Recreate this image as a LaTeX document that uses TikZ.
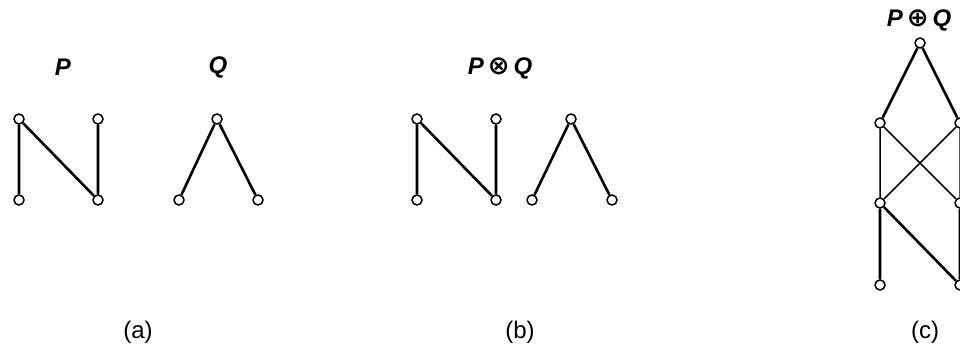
\documentclass[tikz,border=0pt]{standalone}
\usepackage{fontspec}
\setmainfont{Liberation Sans}
\newfontfamily\symfont{DejaVu Sans}
\newcommand{\opsym}[1]{\hspace{4pt}{\normalfont\bfseries\symfont\fontsize{26}{28}\selectfont #1}\hspace{4pt}}
\begin{document}
\begin{tikzpicture}[x=1pt,y=1pt,
  vert/.style={circle,draw=black,fill=white,line width=1.5pt,inner sep=0pt,minimum size=10pt},
  edge/.style={line width=2.6pt},
  thinedge/.style={line width=1.5pt},
  lbl/.style={font=\fontsize{24}{28}\selectfont\bfseries\itshape,inner sep=0pt},
  sublabel/.style={font=\fontsize{24}{28}\selectfont,inner sep=0pt}]
\useasboundingbox (0,0) rectangle (960,351);
% (a) P
\node[vert] (p1) at (19,232) {};
\node[vert] (p2) at (98,232) {};
\node[vert] (p3) at (19,151) {};
\node[vert] (p4) at (98,151) {};
\draw[edge] (p3) -- (p1) -- (p4) -- (p2);
\node[lbl] (lP) at (63,284) {P};
% (a) Q
\node[vert] (q1) at (217,232) {};
\node[vert] (q2) at (179,151) {};
\node[vert] (q3) at (258,151) {};
\draw[edge] (q2) -- (q1) -- (q3);
\node[lbl] (lQ) at (218,284) {Q};
\node[sublabel] (la) at (138,19) {(a)};
% (b)
\node[vert] (b1) at (417,232) {};
\node[vert] (b2) at (496,232) {};
\node[vert] (b3) at (417,151) {};
\node[vert] (b4) at (496,151) {};
\draw[edge] (b3) -- (b1) -- (b4) -- (b2);
\node[vert] (b5) at (571,232) {};
\node[vert] (b6) at (532,151) {};
\node[vert] (b7) at (612,151) {};
\draw[edge] (b6) -- (b5) -- (b7);
\node[lbl] (lb) at (500,283) {P\opsym{⊗}Q};
\node[sublabel] (lbb) at (520,19) {(b)};
% (c)
\node[vert] (c1) at (880,66) {};
\node[vert] (c2) at (960,66) {};
\node[vert] (c3) at (880,148) {};
\node[vert] (c4) at (960,148) {};
\node[vert] (c5) at (880,228) {};
\node[vert] (c6) at (960,228) {};
\node[vert] (c7) at (920,308) {};
\draw[edge] (c1) -- (c3) -- (c2) -- (c4);
\draw[thinedge] (c3) -- (c5) (c3) -- (c6) (c4) -- (c5) (c4) -- (c6);
\draw[edge] (c5) -- (c7) -- (c6);
\node[lbl] (lc) at (919,331) {P\opsym{⊕}Q};
\node[sublabel] (lcc) at (925,19) {(c)};
\end{tikzpicture}
\end{document}
